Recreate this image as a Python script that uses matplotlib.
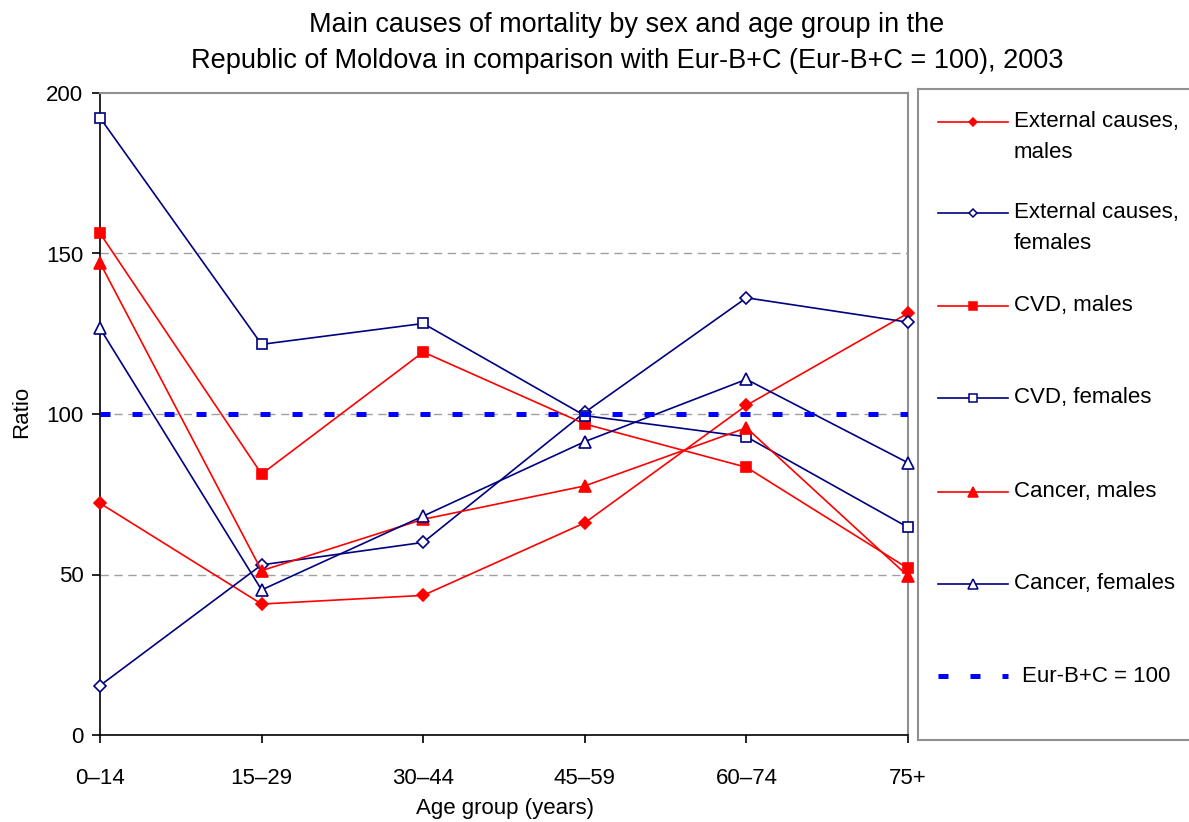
import matplotlib.pyplot as plt
from matplotlib.lines import Line2D

plt.rcParams['font.family'] = ['Liberation Sans', 'DejaVu Sans']

# age groups and ratios (Eur-B+C = 100)
age_groups = ['0–14', '15–29', '30–44', '45–59', '60–74', '75+']
ext_males = [72.2, 40.8, 43.5, 66.1, 102.7, 131.4]
ext_females = [15.4, 53.0, 60.0, 100.5, 136.2, 128.6]
cvd_males = [156.3, 81.3, 119.3, 96.9, 83.4, 51.9]
cvd_females = [192.3, 121.7, 128.2, 99.5, 92.9, 64.7]
cancer_males = [147.1, 51.2, 67.2, 77.6, 95.7, 49.5]
cancer_females = [126.7, 45.2, 68.2, 91.4, 110.8, 84.8]
reference = [100, 100, 100, 100, 100, 100]

RED = '#ff0000'
NAVY = '#000080'
BLUE = '#0000ff'

W, H = 1189, 822
fig = plt.figure(figsize=(W / 100, H / 100), dpi=100)
ax = fig.add_axes([100 / W, 1 - 735 / H, (908 - 100) / W, (735 - 93) / H])

x = list(range(len(age_groups)))

series = [
    ('External causes,\nmales', ext_males, RED, 'D', True, 6),
    ('External causes,\nfemales', ext_females, NAVY, 'D', False, 6),
    ('CVD, males', cvd_males, RED, 's', True, 7),
    ('CVD, females', cvd_females, NAVY, 's', False, 7),
    ('Cancer, males', cancer_males, RED, '^', True, 8),
    ('Cancer, females', cancer_females, NAVY, '^', False, 8),
]

for label, vals, col, mk, filled, ms in series:
    ax.plot(x, vals, color=col, lw=1.2, marker=mk, markersize=ms,
            markerfacecolor=col if filled else 'white',
            markeredgecolor=col, markeredgewidth=1.2, clip_on=False, zorder=3)

ax.plot(x, reference, color=BLUE, lw=3.6, dashes=(2, 4.4),
        solid_capstyle='butt', dash_capstyle='butt', zorder=4)

ax.set_xlim(0, 5)
ax.set_ylim(0, 200)
ax.set_yticks([0, 50, 100, 150, 200])
ax.set_xticks(x)
ax.set_xticklabels(age_groups)

for yv in [50, 100, 150]:
    ax.axhline(yv, color='#a0a0a0', lw=1.0, dashes=(6, 4), zorder=1)

for side in ['top', 'right']:
    ax.spines[side].set_color('#909090')
    ax.spines[side].set_linewidth(1.5)
for side in ['left', 'bottom']:
    ax.spines[side].set_color('black')
    ax.spines[side].set_linewidth(1.2)

ax.tick_params(axis='y', direction='out', length=6, width=1.2, labelsize=16, pad=6)
ax.tick_params(axis='x', direction='out', length=6, width=1.2, labelsize=16, pad=18)

fig.text(22 / W, 1 - 412 / H, 'Ratio', rotation=90, ha='center', va='center', fontsize=16)
fig.text(505 / W, 1 - 808 / H, 'Age group (years)', ha='center', va='center', fontsize=16)
fig.text(627 / W, 1 - 25 / H, 'Main causes of mortality by sex and age group in the',
         ha='center', va='center', fontsize=19.5)
fig.text(627 / W, 1 - 61 / H,
         'Republic of Moldova in comparison with Eur-B+C (Eur-B+C = 100), 2003',
         ha='center', va='center', fontsize=19.5)

# legend panel, drawn in pixel coordinates
lax = fig.add_axes([918 / W, 1 - 740 / H, (1200 - 918) / W, (740 - 89) / H])
lax.set_xlim(918, 1200)
lax.set_ylim(740, 89)
lax.set_xticks([])
lax.set_yticks([])
for sp in lax.spines.values():
    sp.set_color('#909090')
    sp.set_linewidth(1.5)

rows = [122, 213, 306, 398, 492, 584]
for (label, vals, col, mk, filled, ms), yy in zip(series, rows):
    lax.add_line(Line2D([938, 1008], [yy, yy], color=col, lw=1.2))
    lax.add_line(Line2D([973], [yy], marker=mk, markersize=ms - 1.5, color=col,
                        markerfacecolor=col if filled else 'white',
                        markeredgecolor=col, markeredgewidth=1.1))
    for i, part in enumerate(label.split('\n')):
        lax.text(1014, yy - 1 + 31 * i, part, ha='left', va='center', fontsize=16)

lax.add_line(Line2D([938, 1008], [676, 676], color=BLUE, lw=3.6,
                    dashes=(2, 4.4), dash_capstyle='butt'))
lax.text(1022, 676, 'Eur-B+C = 100', ha='left', va='center', fontsize=16)

fig.savefig('out.png', dpi=100)
